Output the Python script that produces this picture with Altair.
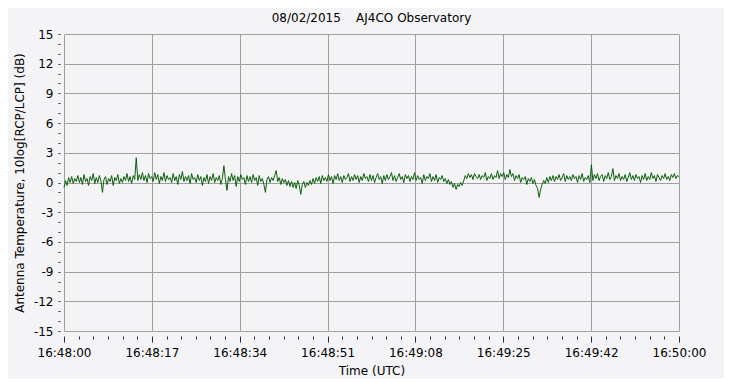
import altair as alt
import pandas as pd

# ---------------- data ----------------
TITLE = "08/02/2015\u00a0\u00a0\u00a0\u00a0AJ4CO Observatory"
X_TITLE = "Time (UTC)"
Y_TITLE = "Antenna Temperature, 10log[RCP/LCP] (dB)"
X_TICK_LABELS = ["16:48:00", "16:48:17", "16:48:34", "16:48:51",
                 "16:49:08", "16:49:25", "16:49:42", "16:50:00"]
Y_DOMAIN = [-15, 15]
DURATION_S = 120          # 16:48:00 .. 16:50:00
SAMPLE_STEP_S = 0.3

# 10log[RCP/LCP] in dB, one value every 0.3 s
DB_VALUES = [
    -0.5, 0.2, -0.3, 0.5, 0.0, 0.6, -0.1, 0.4, 0.1, 0.7,
    0.0, 0.5, -0.2, 0.8, 0.1, 0.4, -0.3, 0.6, 0.2, 0.9,
    -0.1, 0.5, 0.0, 0.7, 0.2, -1.0, 0.3, 0.6, -0.2, 0.4,
    0.1, 0.7, -0.3, 0.5, 0.2, 0.8, -0.1, 0.4, 0.0, 0.6,
    0.2, 0.9, 0.1, 0.6, -0.1, 0.7, 0.3, 2.5, 0.2, 0.8,
    0.3, 1.0, 0.2, 0.7, 0.0, 0.9, 0.4, 0.6, 0.1, 1.0,
    0.3, 0.8, -0.1, 0.6, 0.2, 1.0, 0.1, 0.7, 0.3, 0.5,
    0.0, 0.9, 0.2, 0.6, -0.2, 0.8, 0.3, 1.1, 0.1, 0.6,
    0.2, 0.7, -0.1, 0.9, 0.3, 0.5, 0.0, 0.8, 0.2, 0.6,
    -0.3, 0.5, 0.1, 0.8, -0.1, 0.6, 0.2, 0.9, 0.0, 0.5,
    0.2, 0.7, -0.2, 0.4, 1.7, 0.3, -0.8, 0.6, 0.1, 0.9,
    0.2, 0.7, -0.4, 0.6, 0.1, 0.8, 0.3, 0.5, -0.2, 0.7,
    0.1, 0.6, 0.0, 0.8, 0.2, 0.5, -0.3, 0.7, 0.1, 0.4,
    -0.2, -1.0, 0.3, 0.6, 0.0, 0.5, 0.2, 0.7, 1.2, 0.1,
    0.5, -0.2, 0.4, 0.0, 0.3, -0.3, 0.2, -0.4, 0.1, -0.5,
    0.0, -0.6, 0.2, -0.3, -1.2, -0.2, 0.1, -0.5, 0.0, -0.3,
    0.2, -0.2, 0.4, -0.1, 0.5, 0.1, 0.6, -0.1, 0.7, 0.2,
    0.5, 0.1, 0.8, 0.2, 0.6, -0.1, 0.7, 0.3, 0.9, 0.2,
    0.6, 0.0, 0.7, 0.3, 0.5, 0.9, 0.1, 0.6, 0.2, 0.8,
    0.3, 0.7, 0.0, 0.6, 0.2, 0.9, 0.4, 0.6, 0.1, 0.8,
    0.2, 0.7, 0.0, 0.5, 0.9, 0.3, 0.6, -0.1, 0.7, 0.2,
    0.8, 0.3, 0.6, 1.0, 0.2, 0.7, 0.1, 0.5, 0.9, 0.3,
    0.6, 0.0, 0.8, 0.4, 0.7, 0.1, 0.6, 0.3, 1.0, 0.2,
    0.7, 0.3, 0.5, -0.1, 0.8, 0.2, 0.6, 0.4, 0.9, 0.1,
    0.6, 0.2, 0.8, 0.0, 0.5, 0.3, 0.7, 0.1, 0.4, -0.1,
    0.3, -0.2, 0.1, -0.5, -0.1, -0.7, -0.2, -0.4, 0.0, -0.3,
    0.2, 0.7, 0.4, 0.9, 0.5, 0.8, 0.3, 0.9, 0.6, 0.4,
    0.8, 0.3, 0.7, 0.5, 1.0, 0.2, 0.6, 0.4, 0.9, 0.3,
    0.7, 0.5, 1.2, 0.4, 0.9, 0.6, 1.0, 0.3, 0.8, 0.5,
    1.3, 0.6, 0.9, 0.2, 0.7, 0.4, 0.8, 0.0, 0.5, 0.3,
    0.6, -0.2, 0.4, 0.1, 0.5, -0.1, 0.3, -0.3, -0.6, -1.5,
    -0.7, -0.2, 0.2, -0.1, 0.5, 0.0, 0.6, 0.2, 0.7, 0.1,
    0.6, 0.3, 0.8, 0.2, 0.5, 0.9, 0.1, 0.7, 0.3, 0.6,
    0.2, 0.8, 0.4, 0.6, 0.0, 0.7, 0.3, 0.9, 0.1, 0.5,
    0.3, 0.7, 0.0, 1.8, 0.2, 0.8, 0.4, 0.9, 0.2, 0.6,
    0.8, 0.1, 0.7, 0.4, 1.0, 0.3, 0.6, 1.4, 0.2, 0.7,
    0.4, 0.9, 0.2, 0.6, 0.3, 0.8, 0.1, 0.5, 1.0, 0.3,
    0.7, 0.2, 0.8, 0.4, 0.6, 0.0, 0.7, 0.3, 0.9, 0.2,
    0.6, 0.3, 1.0, 0.4, 0.7, 0.1, 0.8, 0.5, 0.2, 0.7,
    0.4, 0.9, 0.3, 0.6, 0.2, 0.8, 0.5, 0.9, 0.4, 0.7,
    0.6,
]

times = [round(i * SAMPLE_STEP_S, 3) for i in range(len(DB_VALUES))]
df = pd.DataFrame({"t": times, "v": DB_VALUES})

# ---------------- axes ----------------
N_MAJOR = len(X_TICK_LABELS) - 1          # 7 equal divisions
N_SUB = 6                                 # 5 minor ticks between majors
x_values = [k * DURATION_S / (N_MAJOR * N_SUB) for k in range(N_MAJOR * N_SUB + 1)]
pos = f"(datum.value*{N_MAJOR}/{DURATION_S})"
x_major_test = f"abs({pos} - round({pos})) < 0.001"
labels_js = "[" + ",".join(f"'{s}'" for s in X_TICK_LABELS) + "]"

FONT = "DejaVu Sans"
GRID = "#a0a0a0"

x_axis = alt.Axis(
    values=x_values,
    labelExpr=f"{x_major_test} ? {labels_js}[round({pos})] : ''",
    grid=True,
    gridOpacity={"condition": {"test": x_major_test, "value": 1}, "value": 0},
    tickSize={"condition": {"test": x_major_test, "value": 6}, "value": 3},
    tickColor="#1c2b4a",
    offset=5,
    domain=False,
    labelPadding=5,
    labelOverlap=False,
    labelFlush=False,
    title=X_TITLE,
    titleY=38,
    titleBaseline="alphabetic",
)

y_values = list(range(Y_DOMAIN[0], Y_DOMAIN[1] + 1))
y_major_test = "datum.value % 3 == 0"
y_axis = alt.Axis(
    values=y_values,
    labelExpr=f"{y_major_test} ? '' + datum.value : ''",
    grid=True,
    gridOpacity={"condition": {"test": y_major_test, "value": 1}, "value": 0},
    tickSize=2,
    tickColor="#333333",
    offset=4,
    domain=False,
    labelPadding=5,
    labelOverlap=False,
    labelFlush=False,
    title=Y_TITLE,
    titleX=-37,
    titleY=148.5,
    titleAngle=270,
    titleAlign="center",
    titleBaseline="alphabetic",
)

chart = (
    alt.Chart(df)
    .mark_line(color="#0b5e0b", strokeWidth=1)
    .encode(
        x=alt.X("t:Q", scale=alt.Scale(domain=[0, DURATION_S], nice=False, zero=False), axis=x_axis),
        y=alt.Y("v:Q", scale=alt.Scale(domain=Y_DOMAIN, nice=False), axis=y_axis),
    )
    .properties(
        width=615,
        height=297,
        title=alt.TitleParams(
            TITLE, anchor="middle", frame="group", offset=-6, baseline="alphabetic",
            font=FONT, fontSize=12, fontWeight="normal", color="#000000",
        ),
        background="#f4f4f6",
        padding={"left": 56, "top": 26, "right": 45, "bottom": 48},
        autosize=alt.AutoSizeParams(type="none"),
    )
    .configure_view(strokeWidth=0)
    .configure_axis(
        labelFont=FONT, labelFontSize=12, labelColor="#000000",
        titleFont=FONT, titleFontSize=12, titleFontWeight="normal", titleColor="#000000",
        gridColor=GRID, gridWidth=1,
    )
)

chart.save("out.html", embed_options={"renderer": "svg", "actions": False})
